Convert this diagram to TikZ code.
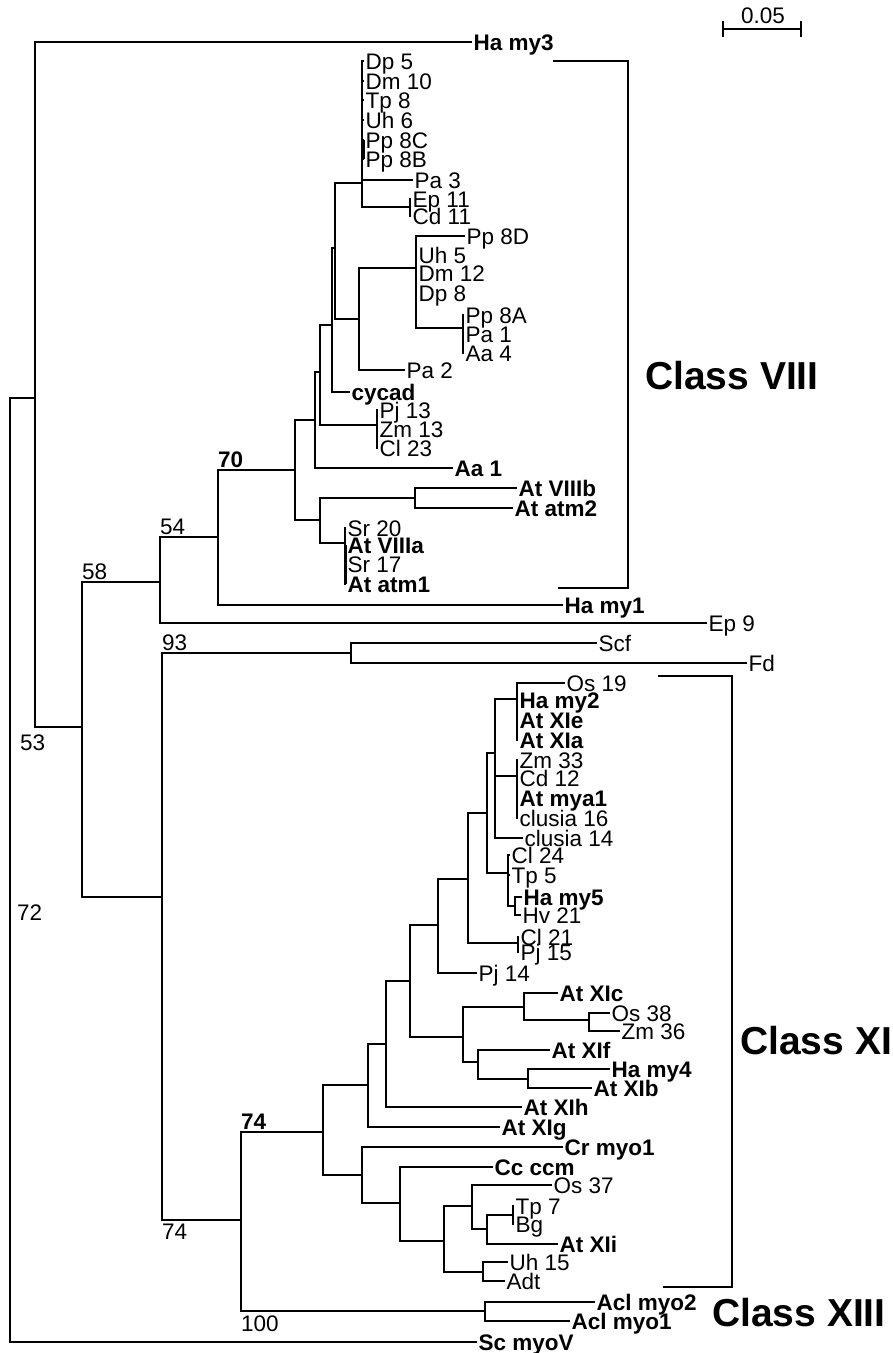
\documentclass[tikz,border=0pt]{standalone}
\usepackage{fontspec}
\setmainfont{Liberation Sans}
\begin{document}
\begin{tikzpicture}[x=1pt,y=-1pt,
  br/.style={line width=1.7pt},
  lf/.style={anchor=west, inner xsep=1.5pt, inner ysep=0pt, text height=16pt, text depth=0pt, font=\fontsize{22.5}{22.5}\selectfont},
  bl/.style={lf, font=\fontsize{22.5}{22.5}\selectfont\bfseries},
  bs/.style={anchor=base west, inner sep=0pt, font=\fontsize{22.5}{22.5}\selectfont},
  bsb/.style={bs, font=\fontsize{22.5}{22.5}\selectfont\bfseries},
  cls/.style={anchor=west, inner sep=0pt, text height=28pt, text depth=0pt, font=\fontsize{39}{39}\selectfont\bfseries}]
\useasboundingbox (0,0) rectangle (893,1353);
% ---------- leaves ----------
\node[bl] (hamy3) at (472,42) {Ha my3};
\node[lf] (dp5) at (364,61) {Dp 5};
\node[lf] (dm10) at (364,81) {Dm 10};
\node[lf] (tp8) at (364,100) {Tp 8};
\node[lf] (uh6) at (364,120) {Uh 6};
\node[lf] (pp8c) at (364,140) {Pp 8C};
\node[lf] (pp8b) at (364,159) {Pp 8B};
\node[lf] (pa3) at (413,180) {Pa 3};
\node[lf] (ep11) at (411,199) {Ep 11};
\node[lf] (cd11) at (411,216) {Cd 11};
\node[lf] (pp8d) at (465,236) {Pp 8D};
\node[lf] (uh5) at (417,255) {Uh 5};
\node[lf] (dm12) at (417,273) {Dm 12};
\node[lf] (dp8) at (417,293) {Dp 8};
\node[lf] (pp8a) at (464,315) {Pp 8A};
\node[lf] (pa1) at (464,334) {Pa 1};
\node[lf] (aa4) at (464,353) {Aa 4};
\node[lf] (pa2) at (405,370) {Pa 2};
\node[bl] (cycad) at (350,392) {cycad};
\node[lf] (pj13) at (378,410) {Pj 13};
\node[lf] (zm13) at (378,429) {Zm 13};
\node[lf] (cl23) at (378,448) {Cl 23};
\node[bl] (aa1) at (453,468) {Aa 1};
\node[bl] (atviiib) at (517,488) {At VIIIb};
\node[bl] (atatm2) at (513,508) {At atm2};
\node[lf] (sr20) at (346,528) {Sr 20};
\node[bl] (atviiia) at (346,545) {At VIIIa};
\node[lf] (sr17) at (346,564) {Sr 17};
\node[bl] (atatm1) at (346,584) {At atm1};
\node[bl] (hamy1) at (563,605) {Ha my1};
\node[lf] (ep9) at (707,623) {Ep 9};
\node[lf] (scf) at (597,643) {Scf};
\node[lf] (fd) at (747,663) {Fd};
\node[lf] (os19) at (565,683) {Os 19};
\node[bl] (hamy2) at (518,700) {Ha my2};
\node[bl] (atxie) at (518,720) {At XIe};
\node[bl] (atxia) at (518,740) {At XIa};
\node[lf] (zm33) at (518,760) {Zm 33};
\node[lf] (cd12) at (518,778) {Cd 12};
\node[bl] (atmya1) at (518,798) {At mya1};
\node[lf] (clusia16) at (518,818) {clusia 16};
\node[lf] (clusia14) at (523,838) {clusia 14};
\node[lf] (cl24) at (510,855) {Cl 24};
\node[lf] (tp5) at (510,875) {Tp 5};
\node[bl] (hamy5) at (522,897) {Ha my5};
\node[lf] (hv21) at (521,915) {Hv 21};
\node[lf] (cl21) at (519,937) {Cl 21};
\node[lf] (pj15) at (519,952) {Pj 15};
\node[lf] (pj14) at (477,973) {Pj 14};
\node[bl] (atxic) at (558,993) {At XIc};
\node[lf] (os38) at (610,1013) {Os 38};
\node[lf] (zm36) at (620,1031) {Zm 36};
\node[bl] (atxif) at (550,1050) {At XIf};
\node[bl] (hamy4) at (610,1069) {Ha my4};
\node[bl] (atxib) at (592,1088) {At XIb};
\node[bl] (atxih) at (522,1107) {At XIh};
\node[bl] (atxig) at (500,1127) {At XIg};
\node[bl] (crmyo1) at (563,1147) {Cr myo1};
\node[bl] (ccccm) at (493,1167) {Cc ccm};
\node[lf] (os37) at (552,1185) {Os 37};
\node[lf] (tp7) at (514,1206) {Tp 7};
\node[lf] (bg) at (514,1224) {Bg};
\node[bl] (atxii) at (558,1244) {At XIi};
\node[lf] (uh15) at (508,1262) {Uh 15};
\node[lf] (adt) at (505,1281) {Adt};
\node[bl] (aclmyo2) at (595,1302) {Acl myo2};
\node[bl] (aclmyo1) at (570,1321) {Acl myo1};
\node[bl] (scmyov) at (477,1342) {Sc myoV};
% ---------- internal nodes ----------
\coordinate (root) at (10,871);
\coordinate (n35) at (35,398);
\coordinate (n82) at (82,727);
\coordinate (n160) at (160,582);
\coordinate (n218) at (218,537);
\coordinate (n295) at (295,470);
\coordinate (c315) at (315,420);
\coordinate (b320) at (320,372);
\coordinate (a332) at (332,325);
\coordinate (n335) at (335,248);
\coordinate (dpn) at (362,183);
\coordinate (epcd) at (410,207);
\coordinate (n359) at (359,319);
\coordinate (n416) at (416,268);
\coordinate (n463) at (463,328);
\coordinate (pjn) at (377,425);
\coordinate (e320) at (320,520);
\coordinate (viiib) at (415,498);
\coordinate (srn) at (345,543);
\coordinate (n162) at (162,897);
\coordinate (scffd) at (351,653);
\coordinate (n241) at (241,1220);
\coordinate (acl) at (485,1311);
\coordinate (bb) at (323,1132);
\coordinate (aa) at (368,1085);
\coordinate (zz) at (386,1044);
\coordinate (tt) at (410,981);
\coordinate (ss) at (438,925);
\coordinate (rr) at (468,879);
\coordinate (n487) at (487,813);
\coordinate (n495) at (495,753);
\coordinate (os19n) at (517,699);
\coordinate (zm33n) at (517,776);
\coordinate (p508) at (508,873);
\coordinate (q515) at (515,906);
\coordinate (cl21n) at (518,943);
\coordinate (uu) at (463,1037);
\coordinate (vv) at (524,1007);
\coordinate (ww) at (589,1020);
\coordinate (xx) at (478,1062);
\coordinate (yy) at (528,1079);
\coordinate (cc) at (362,1175);
\coordinate (dd) at (400,1203);
\coordinate (ee) at (444,1241);
\coordinate (ff) at (472,1206);
\coordinate (gg) at (487,1229);
\coordinate (tpbg) at (513,1215);
\coordinate (hh) at (483,1272);
% ---------- branches ----------
\draw[br] (root) |- (n35); \draw[br] (root) |- (scmyov.west);
\draw[br] (n35) |- (hamy3.west); \draw[br] (n35) |- (n82);
\draw[br] (n82) |- (n160); \draw[br] (n82) |- (n162);
\draw[br] (n160) |- (n218); \draw[br] (n160) |- (ep9.west);
\draw[br] (n218) |- (n295); \draw[br] (n218) |- (hamy1.west);
\draw[br] (n295) |- (c315); \draw[br] (n295) |- (e320);
\draw[br] (c315) |- (b320); \draw[br] (c315) |- (aa1.west);
\draw[br] (b320) |- (a332); \draw[br] (b320) |- (pjn);
\draw[br] (a332) |- (n335); \draw[br] (a332) |- (cycad.west);
\draw[br] (n335) |- (dpn); \draw[br] (n335) |- (n359);
\foreach \l in {dp5,dm10,tp8,uh6,pp8c,pp8b,pa3} \draw[br] (dpn) |- (\l.west);
\draw[br] (pp8c.west) -- (pp8b.west);
\draw[br] (dpn) |- (epcd);
\draw[br] (epcd) |- (ep11.west); \draw[br] (epcd) |- (cd11.west);
\draw[br] (n359) |- (n416); \draw[br] (n359) |- (pa2.west);
\foreach \l in {pp8d,uh5,dm12,dp8} \draw[br] (n416) |- (\l.west);
\draw[br] (n416) |- (n463);
\foreach \l in {pp8a,pa1,aa4} \draw[br] (n463) |- (\l.west);
\foreach \l in {pj13,zm13,cl23} \draw[br] (pjn) |- (\l.west);
\draw[br] (e320) |- (viiib); \draw[br] (e320) |- (srn);
\draw[br] (viiib) |- (atviiib.west); \draw[br] (viiib) |- (atatm2.west);
\foreach \l in {sr20,atviiia,sr17,atatm1} \draw[br] (srn) |- (\l.west);
\draw[br] (atviiia.west) -- (atatm1.west);
\draw[br] (n162) |- (scffd); \draw[br] (n162) |- (n241);
\draw[br] (scffd) |- (scf.west); \draw[br] (scffd) |- (fd.west);
\draw[br] (n241) |- (bb); \draw[br] (n241) |- (acl);
\draw[br] (acl) |- (aclmyo2.west); \draw[br] (acl) |- (aclmyo1.west);
\draw[br] (bb) |- (aa); \draw[br] (bb) |- (cc);
\draw[br] (aa) |- (zz); \draw[br] (aa) |- (atxig.west);
\draw[br] (zz) |- (tt); \draw[br] (zz) |- (atxih.west);
\draw[br] (tt) |- (ss); \draw[br] (tt) |- (uu);
\draw[br] (ss) |- (rr); \draw[br] (ss) |- (pj14.west);
\draw[br] (rr) |- (n487); \draw[br] (rr) |- (cl21n);
\draw[br] (n487) |- (n495); \draw[br] (n487) |- (p508);
\draw[br] (n495) |- (os19n); \draw[br] (n495) |- (zm33n); \draw[br] (n495) |- (clusia14.west);
\foreach \l in {os19,hamy2,atxie,atxia} \draw[br] (os19n) |- (\l.west);
\foreach \l in {zm33,cd12,atmya1,clusia16} \draw[br] (zm33n) |- (\l.west);
\draw[br] (p508) |- (cl24.west); \draw[br] (p508) |- (tp5.west); \draw[br] (p508) |- (q515);
\draw[br] (q515) |- (hamy5.west); \draw[br] (q515) |- (hv21.west);
\draw[br] (cl21n) |- (cl21.west); \draw[br] (cl21n) |- (pj15.west);
\draw[br] (uu) |- (vv); \draw[br] (uu) |- (xx);
\draw[br] (vv) |- (atxic.west); \draw[br] (vv) |- (ww);
\draw[br] (ww) |- (os38.west); \draw[br] (ww) |- (zm36.west);
\draw[br] (xx) |- (atxif.west); \draw[br] (xx) |- (yy);
\draw[br] (yy) |- (hamy4.west); \draw[br] (yy) |- (atxib.west);
\draw[br] (cc) |- (crmyo1.west); \draw[br] (cc) |- (dd);
\draw[br] (dd) |- (ccccm.west); \draw[br] (dd) |- (ee);
\draw[br] (ee) |- (ff); \draw[br] (ee) |- (hh);
\draw[br] (ff) |- (os37.west); \draw[br] (ff) |- (gg);
\draw[br] (gg) |- (tpbg); \draw[br] (gg) |- (atxii.west);
\draw[br] (tpbg) |- (tp7.west); \draw[br] (tpbg) |- (bg.west);
\draw[br] (hh) |- (uh15.west); \draw[br] (hh) |- (adt.west);
% ---------- bootstrap values ----------
\node[bs] (b53) at (20,750) {53};
\node[bs] (b72) at (17,920) {72};
\node[bs] (b58) at (82,579) {58};
\node[bs] (b54) at (160,534) {54};
\node[bsb] (b70) at (218,467) {70};
\node[bs] (b93) at (162,650) {93};
\node[bsb] (b74a) at (241,1129) {74};
\node[bs] (b74b) at (162,1239) {74};
\node[bs] (b100) at (241,1331) {100};
% ---------- class brackets ----------
\coordinate (k8a) at (553,61); \coordinate (k8b) at (558,588);
\draw[br] (k8a) -- (628,61) -- (628,588) -- (k8b);
\coordinate (k11a) at (658,676); \coordinate (k11b) at (663,1287);
\draw[br] (k11a) -- (732,676) -- (732,1287) -- (k11b);
\node[cls] (c8) at (645,375) {Class VIII};
\node[cls] (c11) at (740,1040) {Class XI};
\node[cls] (c13) at (712,1312) {Class XIII};
% ---------- scale bar ----------
\coordinate (sb1) at (723,29); \coordinate (sb2) at (801,29);
\draw[br] (sb1) -- (sb2);
\draw[br] (723,21) -- (723,37); \draw[br] (801,21) -- (801,37);
\node[inner sep=0pt, font=\fontsize{22.5}{22.5}\selectfont] (sbl) at (763,16) {0.05};
\end{tikzpicture}
\end{document}
